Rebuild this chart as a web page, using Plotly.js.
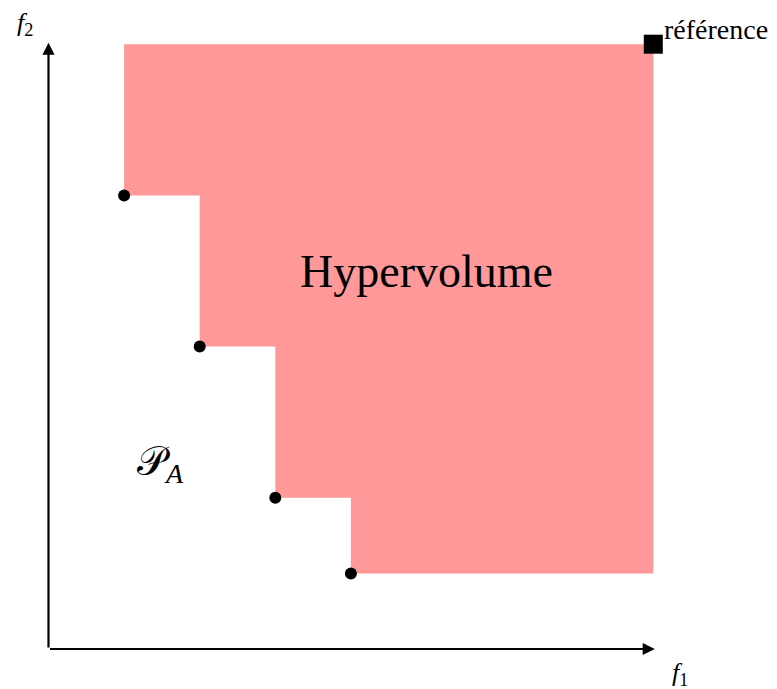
<!DOCTYPE html>
<html><head><meta charset="utf-8">
<script src="https://cdn.plot.ly/plotly-3.0.1.min.js"></script>
<style>html,body{margin:0;padding:0;background:#fff}</style>
</head><body>
<div id="chart" style="width:777px;height:689px"></div>
<script>
// Pareto front points (f1, f2) and reference point
const frontF1 = [1, 2, 3, 4];
const frontF2 = [6, 4, 2, 1];
const refPoint = [8, 8];
const labels = {hv: 'Hypervolume', ref: 'référence', front: '𝒫<sub><i>A</i></sub>', f1: '<i>f</i><sub>1</sub>', f2: '<i>f</i><sub>2</sub>'};

// Build dominated region polygon from the data
const polyX = [frontF1[0]], polyY = [refPoint[1]];
for (let i = 0; i < frontF1.length; i++) {
  polyX.push(frontF1[i]); polyY.push(frontF2[i]);
  const nx = i + 1 < frontF1.length ? frontF1[i + 1] : refPoint[0];
  polyX.push(nx); polyY.push(frontF2[i]);
}
polyX.push(refPoint[0]); polyY.push(refPoint[1]);

const u = 75.6;
const serif = 'Liberation Serif, DejaVu Serif, serif';
const traces = [
  {x: polyX, y: polyY, type: 'scatter', mode: 'lines', fill: 'toself',
   fillcolor: '#ff9898', line: {width: 0}, hoverinfo: 'skip'},
  {x: frontF1, y: frontF2, type: 'scatter', mode: 'markers',
   marker: {color: '#000', size: 12}},
  {x: [refPoint[0]], y: [refPoint[1]], type: 'scatter', mode: 'markers',
   marker: {color: '#000', size: 19, symbol: 'square'}}
];
const axisEnd = 8.02;
const layout = {
  width: 777, height: 689, showlegend: false,
  margin: {l: 0, r: 0, t: 0, b: 0},
  paper_bgcolor: '#fff', plot_bgcolor: '#fff',
  xaxis: {range: [-48.5 / u, (777 - 48.5) / u], visible: false, fixedrange: true},
  yaxis: {range: [-(689 - 649) / u, 649 / u], visible: false, fixedrange: true},
  annotations: [
    {x: axisEnd, y: 0, ax: 0, ay: 0, xref: 'x', yref: 'y', axref: 'x', ayref: 'y',
     showarrow: true, arrowhead: 2, arrowsize: 1.1, arrowwidth: 2.2, arrowcolor: '#000', text: ''},
    {x: 0, y: axisEnd, ax: 0, ay: 0, xref: 'x', yref: 'y', axref: 'x', ayref: 'y',
     showarrow: true, arrowhead: 2, arrowsize: 1.1, arrowwidth: 2.2, arrowcolor: '#000', text: ''},
    {x: 5.0, y: 4.99, xref: 'x', yref: 'y', showarrow: false, text: labels.hv,
     font: {family: serif, size: 46, color: '#000'}},
    {x: refPoint[0] + 0.11, y: refPoint[1] + 0.2, xref: 'x', yref: 'y', showarrow: false,
     xanchor: 'left', text: labels.ref, font: {family: serif, size: 28, color: '#000'}},
    {x: 1.48, y: 2.45, xref: 'x', yref: 'y', showarrow: false, text: labels.front,
     font: {family: serif, size: 40, color: '#000'}},
    {x: 8.35, y: -0.33, xref: 'x', yref: 'y', showarrow: false, text: labels.f1,
     font: {family: serif, size: 26, color: '#000'}},
    {x: -0.31, y: 8.27, xref: 'x', yref: 'y', showarrow: false, text: labels.f2,
     font: {family: serif, size: 26, color: '#000'}}
  ]
};
Plotly.newPlot('chart', traces, layout, {staticPlot: true, displayModeBar: false});
</script>
</body></html>
